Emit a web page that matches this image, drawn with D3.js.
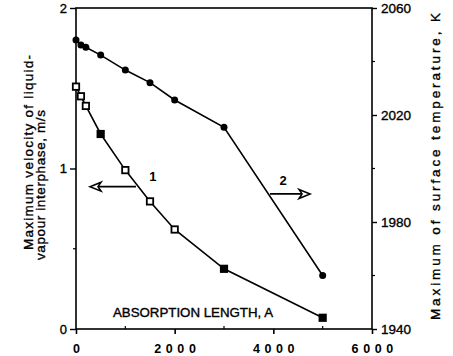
<!DOCTYPE html>
<html>
<head>
<meta charset="utf-8">
<script src="https://cdn.jsdelivr.net/npm/d3@7"></script>
<style>
  body { margin: 0; background: #fff; }
  svg { display: block; font-family: "Liberation Sans", Arial, sans-serif; }
  .heavy { stroke: #000; stroke-width: 0.35px; }
</style>
</head>
<body>
<svg id="chart" width="453" height="356"></svg>
<script>
// absorption length, A
const lengths = [0, 100, 200, 500, 1000, 1500, 2000, 3000, 5000];
// curve 1: max velocity of liquid-vapour interphase, m/s (left axis)
const velocity = [1.51, 1.45, 1.39, 1.215, 0.99, 0.795, 0.62, 0.375, 0.07];
// curve 2: max surface temperature, K (right axis)
const temperature = [2048.0, 2046.2, 2045.3, 2042.4, 2036.8, 2032.1, 2025.6, 2015.4, 1960];

const xTicks = [0, 2000, 4000, 6000];
const xMinor = [1000, 3000, 5000];
const vTicks = [0, 1, 2];
const vMinor = [0.5, 1.5];
const tTicks = [1940, 1980, 2020, 2060];
const tMinor = [1960, 2000, 2040];

const plotLeft = 76, plotRight = 372, plotTop = 8, plotBottom = 329;

const svg = d3.select('#chart');

const x = d3.scaleLinear().domain([0, 6000]).range([plotLeft, plotRight]);
const yV = d3.scaleLinear().domain([0, 2]).range([plotBottom, plotTop]);
const yT = d3.scaleLinear().domain([1940, 2060]).range([plotBottom, plotTop]);

// frame
svg.append('rect')
  .attr('x', plotLeft).attr('y', plotTop)
  .attr('width', plotRight - plotLeft).attr('height', plotBottom - plotTop)
  .attr('fill', 'none').attr('stroke', '#000').attr('stroke-width', 1.6);

// bottom axis
const xAxis = svg.append('g').attr('transform', `translate(0,${plotBottom})`)
  .call(d3.axisBottom(x).tickValues(xTicks).tickSize(5).tickFormat(d3.format('d')));
xAxis.select('.domain').remove();
xAxis.selectAll('line').attr('stroke-width', 1.6);
xAxis.selectAll('text')
  .attr('y', 24).attr('dy', null).attr('dx', 2.2)
  .style('font-size', '12.5px').style('font-weight', 'bold')
  .style('letter-spacing', '4.6px').attr('fill', '#000');
svg.append('g').selectAll('line').data(xMinor).join('line')
  .attr('x1', d => x(d)).attr('x2', d => x(d))
  .attr('y1', plotBottom).attr('y2', plotBottom - 3)
  .attr('stroke', '#000').attr('stroke-width', 1.2);

// left axis
const vAxis = svg.append('g').attr('transform', `translate(${plotLeft},0)`)
  .call(d3.axisLeft(yV).tickValues(vTicks).tickSize(6).tickFormat(d3.format('d')));
vAxis.select('.domain').remove();
vAxis.selectAll('line').attr('stroke-width', 1.4);
vAxis.selectAll('text').attr('x', -9).attr('class', 'heavy')
  .style('font-size', '13px').attr('fill', '#000');
svg.append('g').selectAll('line').data(vMinor).join('line')
  .attr('x1', plotLeft - 3).attr('x2', plotLeft)
  .attr('y1', d => yV(d)).attr('y2', d => yV(d))
  .attr('stroke', '#000').attr('stroke-width', 1.2);

// right axis
const tAxis = svg.append('g').attr('transform', `translate(${plotRight},0)`)
  .call(d3.axisRight(yT).tickValues(tTicks).tickSize(5).tickFormat(d3.format('d')));
tAxis.select('.domain').remove();
tAxis.selectAll('line').attr('stroke-width', 1.4);
tAxis.selectAll('text').attr('x', 9).attr('class', 'heavy')
  .style('font-size', '13.5px').attr('fill', '#000');
svg.append('g').selectAll('line').data(tMinor).join('line')
  .attr('x1', plotRight).attr('x2', plotRight + 3)
  .attr('y1', d => yT(d)).attr('y2', d => yT(d))
  .attr('stroke', '#000').attr('stroke-width', 1.2);

// axis titles
svg.append('text').attr('class', 'heavy')
  .attr('transform', 'translate(33,250) rotate(-90)')
  .attr('textLength', 195).attr('lengthAdjust', 'spacing')
  .style('font-size', '13.5px')
  .text('Maximum velocity of liquid-');
svg.append('text').attr('class', 'heavy')
  .attr('transform', 'translate(45,260) rotate(-90)')
  .attr('textLength', 150).attr('lengthAdjust', 'spacing')
  .style('font-size', '13.5px')
  .text('vapour interphase, m/s');
svg.append('text').attr('class', 'heavy')
  .attr('transform', 'translate(440,320) rotate(-90)')
  .attr('textLength', 307).attr('lengthAdjust', 'spacing')
  .style('font-size', '13.5px')
  .text('Maximum of surface temperature, K');

svg.append('text').attr('class', 'heavy')
  .attr('x', x(750)).attr('y', 317)
  .attr('textLength', 160).attr('lengthAdjust', 'spacingAndGlyphs')
  .style('font-size', '12.5px')
  .text('ABSORPTION LENGTH, A');

// curves
const pts1 = lengths.map((d, i) => [d, velocity[i]]);
const pts2 = lengths.map((d, i) => [d, temperature[i]]);

svg.append('path')
  .attr('d', d3.line().x(d => x(d[0])).y(d => yV(d[1]))(pts1))
  .attr('fill', 'none').attr('stroke', '#000').attr('stroke-width', 1.6);
svg.append('path')
  .attr('d', d3.line().x(d => x(d[0])).y(d => yT(d[1]))(pts2))
  .attr('fill', 'none').attr('stroke', '#000').attr('stroke-width', 1.6);

svg.append('g').selectAll('rect').data(pts1).join('rect')
  .attr('x', d => x(d[0]) - 3.2).attr('y', d => yV(d[1]) - 3.2)
  .attr('width', 6.4).attr('height', 6.4)
  .attr('fill', d => (d[0] >= 3000 || d[0] === 500) ? '#000' : '#fff')
  .attr('stroke', '#000').attr('stroke-width', 1.8);

svg.append('g').selectAll('circle').data(pts2).join('circle')
  .attr('cx', d => x(d[0])).attr('cy', d => yT(d[1]))
  .attr('r', 3.5).attr('fill', '#000');

// curve labels and arrows
function arrow(x1, x2, y) {
  const dir = Math.sign(x2 - x1);
  svg.append('line')
    .attr('x1', x1).attr('x2', x2 - dir * 8).attr('y1', y).attr('y2', y)
    .attr('stroke', '#000').attr('stroke-width', 1.6);
  svg.append('path')
    .attr('d', `M${x2},${y}L${x2 - dir * 11},${y - 4.5}L${x2 - dir * 8},${y}L${x2 - dir * 11},${y + 4.5}Z`)
    .attr('fill', '#fff').attr('stroke', '#000').attr('stroke-width', 1.6)
    .attr('stroke-linejoin', 'miter');
}
arrow(x(1216), x(284), yV(0.887));
arrow(x(3933), x(4744), yT(1990.5));

svg.append('text')
  .attr('x', x(1560)).attr('y', yV(0.92))
  .attr('text-anchor', 'middle')
  .style('font-size', '13px').style('font-weight', 'bold')
  .text('1');
svg.append('text')
  .attr('x', x(4196)).attr('y', yT(1993.8))
  .attr('text-anchor', 'middle')
  .style('font-size', '13px').style('font-weight', 'bold')
  .text('2');
</script>
</body>
</html>
